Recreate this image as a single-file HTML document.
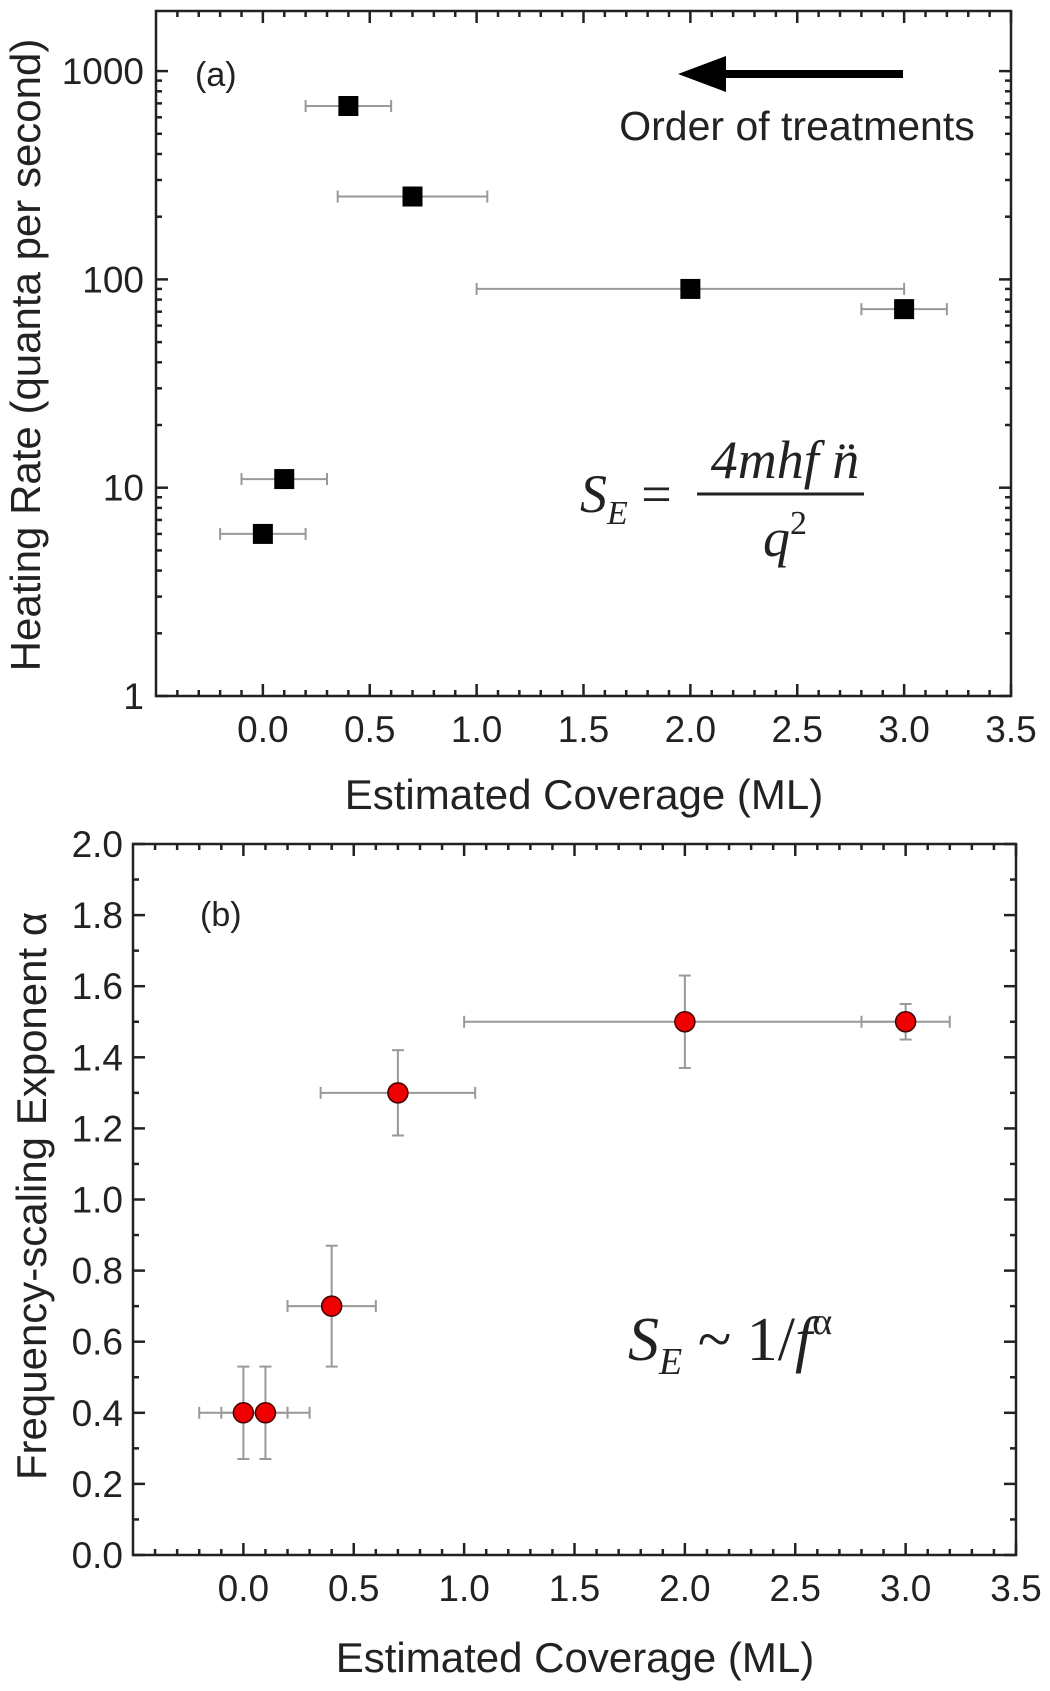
<!DOCTYPE html>
<html><head><meta charset="utf-8"><style>
html,body{margin:0;padding:0;background:#fff}
svg text{font-family:"Liberation Sans",sans-serif;fill:#222}
.eq{font-family:"Liberation Serif",serif;font-style:italic}
</style></head><body>
<svg id="chart" width="1050" height="1686" viewBox="0 0 1050 1686" xmlns="http://www.w3.org/2000/svg">
<g id="pa"></g>
<g id="pb"></g>
<text x="195" y="86" font-size="34">(a)</text>
<text x="200" y="926" font-size="34">(b)</text>
<g>
<line x1="903" y1="74" x2="720" y2="74" stroke="#000" stroke-width="8"/>
<polygon points="678,74 726,56 726,92" fill="#000"/>
</g>
<text x="797" y="140" font-size="41" text-anchor="middle">Order of treatments</text>
<g>
<text class="eq" x="580" y="512" font-size="54">S<tspan font-size="34" dy="12">E</tspan><tspan dy="-12" font-style="normal"> =</tspan></text>
<text class="eq" x="785" y="478" font-size="54" text-anchor="middle">4mhf n̈</text>
<line x1="697" y1="494" x2="864" y2="494" stroke="#222" stroke-width="3"/>
<text class="eq" x="785" y="556" font-size="54" text-anchor="middle">q<tspan font-size="34" dy="-22" font-style="normal">2</tspan></text>
</g>
<g>
<text class="eq" x="628" y="1360" font-size="62">S<tspan font-size="38" dy="14">E</tspan><tspan dy="-14" font-style="normal"> ~ 1/</tspan>f<tspan font-size="38" dy="-26" font-style="normal">α</tspan></text>
</g>
<text transform="translate(40,355) rotate(-90)" font-size="42" text-anchor="middle">Heating Rate (quanta per second)</text>
<text x="584" y="809" font-size="42" text-anchor="middle">Estimated Coverage (ML)</text>
<text transform="translate(46,1196) rotate(-90)" font-size="42" text-anchor="middle">Frequency-scaling Exponent α</text>
<text x="575" y="1672" font-size="42" text-anchor="middle">Estimated Coverage (ML)</text>
</svg>
<script>
const xTicks=[0.0,0.5,1.0,1.5,2.0,2.5,3.0,3.5];
const aX=[0.4,0.7,2.0,3.0,0.1,0.0];
const aY=[680,250,90,72,11,6];
const aXlo=[0.2,0.35,1.0,2.8,-0.1,-0.2];
const aXhi=[0.6,1.05,3.0,3.2,0.3,0.2];
const aYTicks=[1,10,100,1000];
const bX=[0.0,0.1,0.4,0.7,2.0,3.0];
const bY=[0.4,0.4,0.7,1.3,1.5,1.5];
const bYlo=[0.27,0.27,0.53,1.18,1.37,1.45];
const bYhi=[0.53,0.53,0.87,1.42,1.63,1.55];
const bXlo=[-0.2,-0.1,0.2,0.35,1.0,2.8];
const bXhi=[0.2,0.3,0.6,1.05,3.0,3.2];
const bYTicks=[0.0,0.2,0.4,0.6,0.8,1.0,1.2,1.4,1.6,1.8,2.0];
const NS='http://www.w3.org/2000/svg';
function mk(p,t,a){const e=document.createElementNS(NS,t);for(const k in a)e.setAttribute(k,a[k]);p.appendChild(e);return e;}
const A={l:156,r:1011,t:11,b:696};
const axA=v=>A.l+(v+0.5)/4*(A.r-A.l);
const dec=208.3;
const ayA=v=>A.b-Math.log10(v)*dec;
const B={l:133,r:1016,t:844,b:1555};
const axB=v=>B.l+(v+0.5)/4*(B.r-B.l);
const ayB=v=>B.b-v/2*(B.b-B.t);
function frame(g,P,ax,name){
  const f=mk(g,'rect',{x:P.l,y:P.t,width:P.r-P.l,height:P.b-P.t,fill:'none',stroke:'#222','stroke-width':2.5});
  
  
  for(let i=-4;i<=35;i++){const v=i/10;const x=ax(v);const maj=(i%5===0);const L=maj?12:6;
    mk(g,'line',{x1:x,y1:P.b,x2:x,y2:P.b-L,stroke:'#222','stroke-width':2.5});
    mk(g,'line',{x1:x,y1:P.t,x2:x,y2:P.t+L,stroke:'#222','stroke-width':2.5});}
  xTicks.forEach(v=>{const t=mk(g,'text',{x:ax(v),y:P.b+46,'font-size':37,'text-anchor':'middle'});t.textContent=v.toFixed(1);
    
    });
}
const ga=document.getElementById('pa');
frame(ga,A,axA,'panel-a');
for(let d=0;d<4;d++){for(let m=1;m<10;m++){const v=m*Math.pow(10,d);const y=ayA(v);if(y<A.t)continue;const L=m===1?12:6;
  mk(ga,'line',{x1:A.l,y1:y,x2:A.l+L,y2:y,stroke:'#222','stroke-width':2.5});
  mk(ga,'line',{x1:A.r,y1:y,x2:A.r-L,y2:y,stroke:'#222','stroke-width':2.5});}}
aYTicks.forEach(v=>{const t=mk(ga,'text',{x:A.l-12,y:ayA(v)+13,'font-size':37,'text-anchor':'end'});t.textContent=v;
  
  });
aX.forEach((v,i)=>{const y=ayA(aY[i]);
  const e=mk(ga,'g',{});
  
  
  mk(e,'line',{x1:axA(aXlo[i]),y1:y,x2:axA(aXhi[i]),y2:y,stroke:'#999','stroke-width':2});
  [aXlo[i],aXhi[i]].forEach(c=>mk(e,'line',{x1:axA(c),y1:y-6,x2:axA(c),y2:y+6,stroke:'#999','stroke-width':2}));
  const s=mk(ga,'rect',{x:axA(v)-10,y:y-10,width:20,height:20,fill:'#000'});
  
  });
const gb=document.getElementById('pb');
frame(gb,B,axB,'panel-b');
for(let i=0;i<=20;i++){const y=ayB(i/10);const L=i%2===0?12:6;
  mk(gb,'line',{x1:B.l,y1:y,x2:B.l+L,y2:y,stroke:'#222','stroke-width':2.5});
  mk(gb,'line',{x1:B.r,y1:y,x2:B.r-L,y2:y,stroke:'#222','stroke-width':2.5});}
bYTicks.forEach(v=>{const t=mk(gb,'text',{x:B.l-10,y:ayB(v)+13,'font-size':37,'text-anchor':'end'});t.textContent=v.toFixed(1);
  
  });
bX.forEach((v,i)=>{const x=axB(v),y=ayB(bY[i]);
  const e=mk(gb,'g',{});
  
  
  mk(e,'line',{x1:axB(bXlo[i]),y1:y,x2:axB(bXhi[i]),y2:y,stroke:'#999','stroke-width':2});
  [bXlo[i],bXhi[i]].forEach(c=>mk(e,'line',{x1:axB(c),y1:y-6,x2:axB(c),y2:y+6,stroke:'#999','stroke-width':2}));
  mk(e,'line',{x1:x,y1:ayB(bYlo[i]),x2:x,y2:ayB(bYhi[i]),stroke:'#999','stroke-width':2});
  [bYlo[i],bYhi[i]].forEach(c=>mk(e,'line',{x1:x-6,y1:ayB(c),x2:x+6,y2:ayB(c),stroke:'#999','stroke-width':2}));
});
bX.forEach((v,i)=>{const c=mk(gb,'circle',{cx:axB(v),cy:ayB(bY[i]),r:10,fill:'#e00',stroke:'#400','stroke-width':1.5});
  
  });
</script>
</body></html>
